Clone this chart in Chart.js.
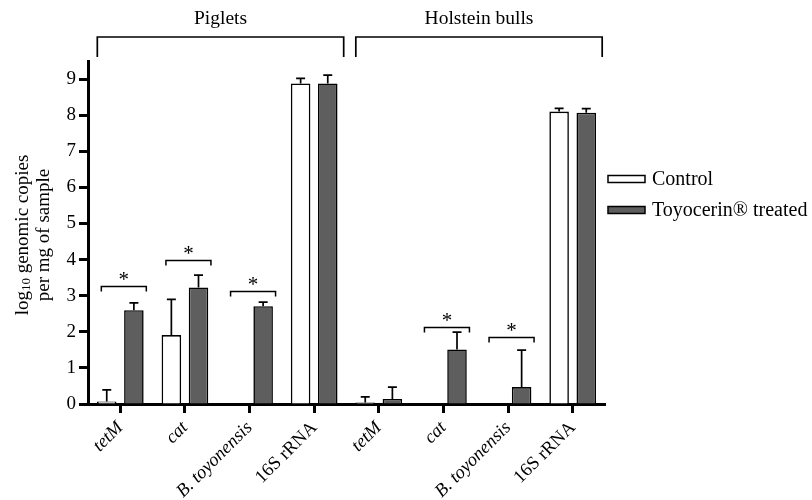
<!DOCTYPE html>
<html>
<head>
<meta charset="utf-8">
<title>Genomic copies per mg of sample</title>
<script src="https://cdn.jsdelivr.net/npm/chart.js@4.4.1/dist/chart.umd.min.js"></script>
<style>
  html, body { margin: 0; padding: 0; background: #fff; }
  #wrap { width: 812px; height: 500px; }
</style>
</head>
<body>
<div id="wrap"><canvas id="geneChart" width="812" height="500"></canvas></div>
<script>
(function () {
    'use strict';

    var SERIF = '"Liberation Serif", "DejaVu Serif", serif';

    // log10 genomic copies per mg, mean and SD (error bars drawn upward only)
    var categories    = ['tetM', 'cat', 'B. toyonensis', '16S rRNA', 'tetM', 'cat', 'B. toyonensis', '16S rRNA'];
    var controlMeans  = [0.07, 1.91, 0, 8.88, 0.04, 0, 0, 8.10];
    var controlSD     = [0.32, 0.99, 0, 0.14, 0.16, 0, 0, 0.09];
    var treatedMeans  = [2.60, 3.23, 2.71, 8.88, 0.14, 1.51, 0.47, 8.07];
    var treatedSD     = [0.20, 0.34, 0.11, 0.23, 0.33, 0.48, 1.02, 0.11];
    var seriesNames   = ['Control', 'Toyocerin\u00AE treated'];
    var yTicks        = [0, 1, 2, 3, 4, 5, 6, 7, 8, 9];

    // animal groups spanning category indexes
    var groupLabels   = ['Piglets', 'Holstein bulls'];
    var groupFirst    = [0, 4];
    var groupLast     = [3, 7];

    // significant differences: category index and bracket height (axis units)
    var sigIndex      = [0, 1, 2, 5, 6];
    var sigLevel      = [3.28, 3.99, 3.14, 2.14, 1.86];

    var annotations = {
        id: 'annotations',
        afterDatasetsDraw: function (chart) {
            var ctx = chart.ctx;
            var x = chart.scales.x, y = chart.scales.y;
            ctx.save();
            ctx.strokeStyle = '#000';
            ctx.fillStyle = '#000';
            ctx.lineCap = 'butt';

            // upward error bars
            [controlSD, treatedSD].forEach(function (sd, d) {
                var means = d === 0 ? controlMeans : treatedMeans;
                chart.getDatasetMeta(d).data.forEach(function (bar, i) {
                    if (!sd[i]) return;
                    var top = y.getPixelForValue(means[i] + sd[i]);
                    var base = y.getPixelForValue(means[i]);
                    ctx.lineWidth = 1.7;
                    ctx.beginPath();
                    ctx.moveTo(bar.x, base);
                    ctx.lineTo(bar.x, top);
                    ctx.moveTo(bar.x - 4.5, top);
                    ctx.lineTo(bar.x + 4.5, top);
                    ctx.stroke();
                });
            });

            // significance brackets with asterisks
            ctx.textAlign = 'center';
            ctx.textBaseline = 'middle';
            sigIndex.forEach(function (idx, k) {
                var cx = x.getPixelForValue(idx);
                var by = Math.round(y.getPixelForValue(sigLevel[k])) + 0.5;
                var l = cx - 19, r = cx + 26;
                ctx.lineWidth = 1.5;
                ctx.beginPath();
                ctx.moveTo(l, by + 5);
                ctx.lineTo(l, by);
                ctx.lineTo(r, by);
                ctx.lineTo(r, by + 5);
                ctx.stroke();
                ctx.font = '21px ' + SERIF;
                ctx.fillText('*', (l + r) / 2, by - 6);
            });

            // group brackets across the top
            groupLabels.forEach(function (label, g) {
                var l = x.getPixelForValue(groupFirst[g]) - 23;
                var r = x.getPixelForValue(groupLast[g]) + 29.5;
                ctx.lineWidth = 1.7;
                ctx.beginPath();
                ctx.moveTo(l, 57);
                ctx.lineTo(l, 37);
                ctx.lineTo(r, 37);
                ctx.lineTo(r, 57);
                ctx.stroke();
                ctx.font = '19.5px ' + SERIF;
                ctx.fillText(label, (l + r) / 2, 19);
            });

            // y axis title, two lines with a subscript
            ctx.translate(0, 235);
            ctx.rotate(-Math.PI / 2);
            ctx.textBaseline = 'middle';
            ctx.textAlign = 'left';
            var big = '19px ' + SERIF, small = '13px ' + SERIF;
            ctx.font = big;
            var w1 = ctx.measureText('log').width;
            var w3 = ctx.measureText(' genomic copies').width;
            ctx.font = small;
            var w2 = ctx.measureText('10').width;
            var sx = -(w1 + w2 + w3) / 2;
            ctx.font = big;
            ctx.fillText('log', sx, 23);
            ctx.font = small;
            ctx.fillText('10', sx + w1, 27);
            ctx.font = big;
            ctx.fillText(' genomic copies', sx + w1 + w2, 23);
            ctx.textAlign = 'center';
            ctx.fillText('per mg of sample', 0, 44);
            ctx.restore();

            // legend
            ctx.save();
            ctx.font = '20px ' + SERIF;
            ctx.textBaseline = 'middle';
            ctx.textAlign = 'left';
            chart.data.datasets.forEach(function (ds, d) {
                var cy = d === 0 ? 179 : 210;
                ctx.fillStyle = ds.backgroundColor;
                ctx.fillRect(608, cy - 3.5, 37, 7);
                ctx.lineWidth = 1.5;
                ctx.strokeStyle = '#000';
                ctx.strokeRect(608, cy - 3.5, 37, 7);
                ctx.fillStyle = '#000';
                ctx.fillText(ds.label, 652, cy + 1);
            });
            ctx.restore();
        }
    };

    var barStyle = {
        borderColor: '#000',
        borderWidth: 1.6,
        borderSkipped: 'start',
        categoryPercentage: 0.84,
        barPercentage: 0.72
    };

    new Chart(document.getElementById('geneChart'), {
        type: 'bar',
        data: {
            labels: categories,
            datasets: [
                Object.assign({ label: seriesNames[0], data: controlMeans, backgroundColor: '#ffffff' }, barStyle),
                Object.assign({ label: seriesNames[1], data: treatedMeans, backgroundColor: '#5e5e5e' }, barStyle)
            ]
        },
        options: {
            responsive: false,
            animation: false,
            layout: { padding: { top: 61, right: 207, left: 0, bottom: 0 } },
            plugins: { legend: { display: false }, tooltip: { enabled: false } },
            scales: {
                x: {
                    grid: { drawOnChartArea: false, drawTicks: true, tickLength: 9, tickWidth: 3, tickColor: '#000', offset: false },
                    border: { display: true, width: 3, color: '#000' },
                    ticks: {
                        color: '#000',
                        minRotation: 45,
                        maxRotation: 45,
                        padding: 4,
                        font: function (c) {
                            return { family: SERIF, size: 18.5, style: categories[c.index] === '16S rRNA' ? 'normal' : 'italic' };
                        }
                    },
                    afterFit: function (scale) { scale.height = 96; }
                },
                y: {
                    min: 0,
                    max: 9.5,
                    afterBuildTicks: function (scale) {
                        scale.ticks = yTicks.map(function (v) { return { value: v }; });
                    },
                    grid: { drawOnChartArea: false, drawTicks: true, tickLength: 9, tickWidth: 3, tickColor: '#000' },
                    border: { display: true, width: 3, color: '#000' },
                    ticks: { color: '#000', padding: 3, font: { family: SERIF, size: 19 } },
                    afterFit: function (scale) { scale.width = 88; }
                }
            }
        },
        plugins: [annotations]
    });
})();
</script>
</body>
</html>
